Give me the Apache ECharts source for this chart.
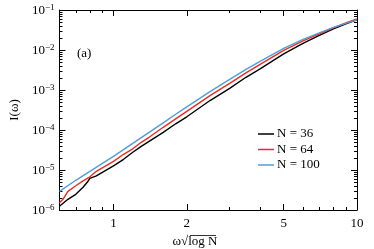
<!DOCTYPE html>
<html><head><meta charset="utf-8">
<script src="https://cdn.jsdelivr.net/npm/echarts@6/dist/echarts.min.js"></script>
<style>html,body{margin:0;padding:0;background:#fff}#c{width:374px;height:249px}</style>
</head><body><div id="c"></div>
<script>
// omega * sqrt(log N) values and I(omega) values
const omega36 = [0.6,0.65,0.7,0.75,0.78,0.8,0.85,0.9,1.0,1.1,1.2,1.3,1.4,1.6,1.8,2,2.5,3,3.5,4,5,6,7,8,9,10];
const I36 = [1.24e-6,1.85e-6,2.47e-6,3.69e-6,4.93e-6,6.20e-6,7.16e-6,8.76e-6,1.27e-5,1.85e-5,2.77e-5,3.91e-5,5.22e-5,8.76e-5,1.43e-4,2.14e-4,5.53e-4,1.10e-3,2.08e-3,3.39e-3,8.04e-3,1.47e-2,2.33e-2,3.39e-2,4.52e-2,5.69e-2];
const omega64 = [0.6,0.62,0.65,0.7,0.75,0.8,0.85,0.9,1.0,1.1,1.2,1.3,1.4,1.6,1.8,2,2.5,3,3.5,4,5,6,7,8,9,10];
const I64 = [1.51e-6,1.85e-6,2.93e-6,4.03e-6,5.37e-6,6.76e-6,9.28e-6,1.135e-5,1.65e-5,2.47e-5,3.39e-5,4.93e-5,6.57e-5,1.168e-4,1.905e-4,2.93e-4,7.37e-4,1.47e-3,2.69e-3,4.39e-3,9.83e-3,1.70e-2,2.54e-2,3.59e-2,4.79e-2,6.03e-2];
const omega100 = [0.6,0.7,0.8,0.9,1.0,1.2,1.4,1.6,1.8,2,2.5,3,3.5,4,5,6,7,8,9,10];
const I100 = [2.93e-6,5.53e-6,9.28e-6,1.47e-5,2.20e-5,4.65e-5,8.76e-5,1.51e-4,2.47e-4,3.80e-4,9.28e-4,1.85e-3,3.29e-3,5.22e-3,1.10e-2,1.85e-2,2.69e-2,3.69e-2,4.65e-2,5.69e-2];

const seriesNames = ['N = 36','N = 64','N = 100'];
const seriesColors = ['#000000','#f02a1e','#4c9fd9'];
const xMajorTicks = [1,2,5,10];
const xMinorTicks = [0.7,0.8,0.9,3,4,6,7,8,9];
const yDecades = [-6,-5,-4,-3,-2,-1];
const xMin = 0.6, xMax = 10;

const FONT = '"Liberation Serif","Times New Roman",serif';
const lg = Math.log10;
const toPts = (xs, ys) => xs.map((x, i) => [lg(x), lg(ys[i])]);
const yMinor = [];
for (let d = -6; d < -1; d++) for (let k = 2; k <= 9; k++) yMinor.push(d + lg(k));

const baseX = {type:'value', min: lg(xMin), max: lg(xMax), splitLine:{show:false}};
const baseY = {type:'value', min: -6, max: -1, splitLine:{show:false}};
const line = {show:true, onZero:false, lineStyle:{color:'#000', width:1}};
const noLine = {show:false, onZero:false};
function tick(len, vals){ return {show:true, inside:true, length:len, customValues: vals, lineStyle:{color:'#000', width:1}}; }

const xAxes = [
  Object.assign({}, baseX, {position:'bottom', axisLine: line, axisTick: tick(6, xMajorTicks.map(lg)),
    axisLabel:{show:true, customValues: xMajorTicks.map(lg), formatter: v => String(Math.round(Math.pow(10, v))), margin: 7, color:'#000', fontSize: 13, fontFamily: FONT}}),
  Object.assign({}, baseX, {position:'bottom', axisLine: noLine, axisTick: tick(3, xMinorTicks.map(lg)), axisLabel:{show:false}}),
  Object.assign({}, baseX, {position:'top', axisLine: line, axisTick: tick(6, xMajorTicks.map(lg)), axisLabel:{show:false}}),
  Object.assign({}, baseX, {position:'top', axisLine: noLine, axisTick: tick(3, xMinorTicks.map(lg)), axisLabel:{show:false}})
];
const yAxes = [
  Object.assign({}, baseY, {position:'left', axisLine: line, axisTick: tick(6, yDecades),
    name: 'I(ω)', nameLocation:'middle', nameGap: 34, nameRotate: 90, nameTextStyle:{color:'#000', fontSize:13, fontFamily: FONT},
    axisLabel:{show:true, customValues: yDecades, margin: 5, formatter: v => '{a|10}{b|' + (Math.round(v) < 0 ? '\u2212' + Math.abs(Math.round(v)) : Math.round(v)) + '}',
      rich:{a:{fontSize:13, fontFamily: FONT, color:'#000', lineHeight:14, verticalAlign:'bottom'}, b:{fontSize:9, fontFamily: FONT, color:'#000', verticalAlign:'top'}}}}),
  Object.assign({}, baseY, {position:'left', axisLine: noLine, axisTick: tick(3, yMinor), axisLabel:{show:false}}),
  Object.assign({}, baseY, {position:'right', axisLine: line, axisTick: tick(6, yDecades), axisLabel:{show:false}}),
  Object.assign({}, baseY, {position:'right', axisLine: noLine, axisTick: tick(3, yMinor), axisLabel:{show:false}})
];

const dataSets = [toPts(omega36, I36), toPts(omega64, I64), toPts(omega100, I100)];

const chart = echarts.init(document.getElementById('c'), null, {renderer:'canvas'});
chart.setOption({
  animation: false,
  backgroundColor: '#fff',
  grid: {left: 45, top: 10, width: 312, height: 200, containLabel: false},
  xAxis: xAxes,
  yAxis: yAxes,
  legend: {
    data: seriesNames, orient: 'vertical', left: 253, top: 122, icon: 'rect', itemWidth: 16, itemHeight: 1.5, itemGap: 1.5,
    textStyle: {color:'#000', fontSize: 13, lineHeight: 14, fontFamily: FONT, padding:[0,0,0,-2]}
  },
  graphic: [
    {type:'text', left: 77, top: 47, style:{text:'(a)', fill:'#000', font:'13px ' + FONT}},
    {type:'text', x: 195, y: 242, style:{text:'ω√log N', fill:'#000', font:'13px ' + FONT, align:'center', verticalAlign:'middle'}},
    {type:'line', shape:{x1: 190, y1: 235.5, x2: 216, y2: 235.5}, style:{stroke:'#000', lineWidth: 0.8}}
  ],
  series: dataSets.map((d, i) => ({
    name: seriesNames[i], type: 'line', data: d, symbol: 'none', smooth: false,
    xAxisIndex: 0, yAxisIndex: 0,
    lineStyle: {color: seriesColors[i], width: 1.4}, itemStyle: {color: seriesColors[i]}
  }))
});
</script></body></html>
